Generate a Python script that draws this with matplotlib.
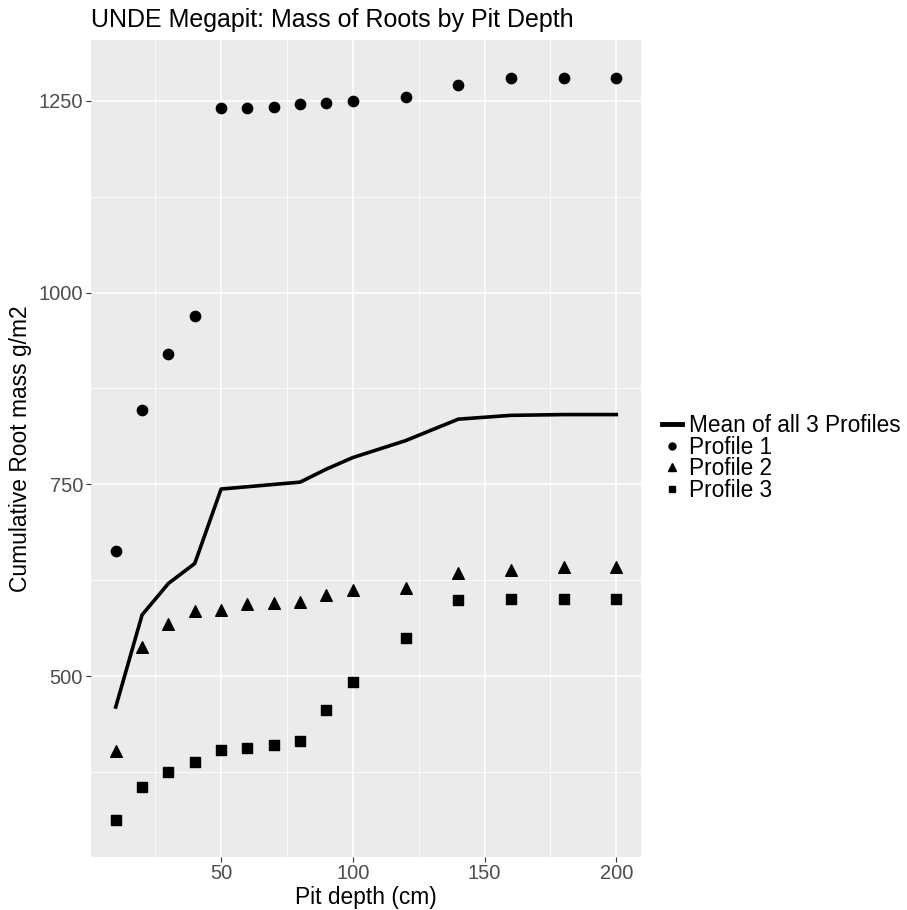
import matplotlib
matplotlib.use('Agg')
import matplotlib.pyplot as plt
from matplotlib.lines import Line2D

plt.rcParams['font.family'] = ['Liberation Sans', 'DejaVu Sans']

# pit depth (cm)
DEPTH = [10, 20, 30, 40, 50, 60, 70, 80, 90, 100, 120, 140, 160, 180, 200]
# cumulative root mass g/m2
PROFILE_1 = [663, 847, 920, 969, 1241, 1241, 1242, 1246, 1247, 1250, 1255, 1270, 1280, 1280, 1280]
PROFILE_2 = [403, 538, 568, 585, 586, 594, 596, 597, 606, 613, 615, 635, 638, 643, 643]
PROFILE_3 = [313, 356, 375, 388, 404, 407, 411, 416, 456, 492, 550, 599, 601, 601, 601]
MEAN_ALL = [460, 580, 621, 647, 744, 747, 750, 753, 770, 785, 807, 835, 840, 841, 841]

X_TICKS = [50, 100, 150, 200]
Y_TICKS = [500, 750, 1000, 1250]

W, H = 907, 910


def main():
    fig = plt.figure(figsize=(W / 100, H / 100), dpi=100)
    left, right, top, bottom = 90.7, 641.3, 40.0, 856.7
    ax = fig.add_axes([left / W, 1 - bottom / H, (right - left) / W, (bottom - top) / H])
    ax.set_facecolor('#EBEBEB')
    for sp in ax.spines.values():
        sp.set_visible(False)

    ax.set_xlim(0.5, 209.5)
    ax.set_ylim(265, 1329)
    ax.set_xticks(X_TICKS)
    ax.set_yticks(Y_TICKS)
    ax.set_xticks([25, 75, 125, 175], minor=True)
    ax.set_yticks([375, 625, 875, 1125], minor=True)
    ax.grid(which='major', color='white', linewidth=1.1)
    ax.grid(which='minor', color='white', linewidth=0.55)
    ax.set_axisbelow(True)
    ax.tick_params(which='major', length=3.5, width=0.8, color='#333333',
                   labelsize=14.5, labelcolor='#4D4D4D', pad=2)
    ax.tick_params(which='minor', length=0)

    ax.plot(DEPTH, MEAN_ALL, color='black', linewidth=2.6, zorder=3)
    ax.scatter(DEPTH, PROFILE_1, marker='o', s=55, color='black', zorder=4)
    ax.scatter(DEPTH, PROFILE_2, marker='^', s=70, color='black', zorder=4)
    ax.scatter(DEPTH, PROFILE_3, marker='s', s=50, color='black', zorder=4)

    ax.set_xlabel('Pit depth (cm)', fontsize=16.4, labelpad=2)
    ax.set_ylabel('Cumulative Root mass g/m2', fontsize=16.4, labelpad=5)
    fig.text(left / W, 1 - 20 / H, 'UNDE Megapit: Mass of Roots by Pit Depth',
             fontsize=18, ha='left', va='center')

    handles = [
        Line2D([], [], color='black', linewidth=3.5),
        Line2D([], [], color='black', marker='o', linestyle='', markersize=5),
        Line2D([], [], color='black', marker='^', linestyle='', markersize=6),
        Line2D([], [], color='black', marker='s', linestyle='', markersize=5),
    ]
    labels = ['Mean of all 3 Profiles', 'Profile 1', 'Profile 2', 'Profile 3']
    fig.legend(handles, labels, loc='center left', bbox_to_anchor=(662 / W, 1 - 458 / H),
               frameon=False, fontsize=16.3, handlelength=0.9, handletextpad=0.3,
               labelspacing=-0.07, borderpad=0, borderaxespad=0)

    fig.savefig('out.png', dpi=100)


if __name__ == '__main__':
    main()
